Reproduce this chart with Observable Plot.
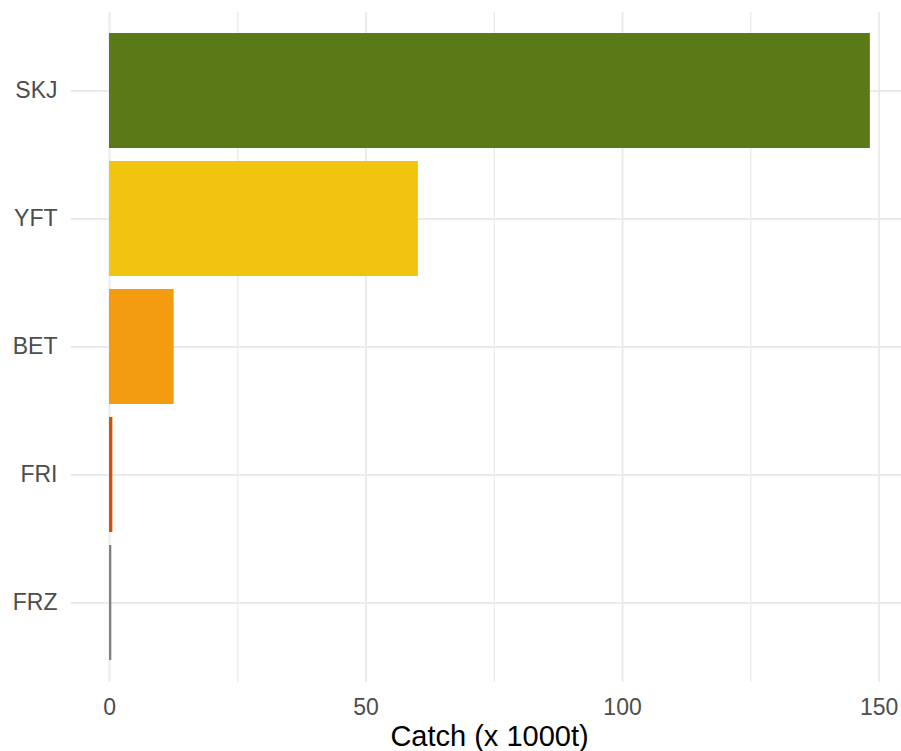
<!DOCTYPE html>
<html>
<head>
<meta charset="utf-8">
<script src="https://cdn.jsdelivr.net/npm/d3@7"></script>
<script src="https://cdn.jsdelivr.net/npm/@observablehq/plot@0.6"></script>
<style>
  html, body { margin: 0; padding: 0; background: #fff; }
  #chart svg { display: block; }
</style>
</head>
<body>
<div id="chart"></div>
<script>
const species = ["SKJ", "YFT", "BET", "FRI", "FRZ"];
const catchValues = [148.3, 60.2, 12.6, 0.65, 0.45];
const barColors = ["#5a7a17", "#f1c40f", "#f39c12", "#d35400", "#808080"];
const majorTicks = [0, 50, 100, 150];
const minorTicks = [25, 75, 125];
const xTitle = "Catch (x 1000t)";

const data = species.map((s, i) => ({species: s, value: catchValues[i], color: barColors[i]}));

const chart = Plot.plot({
  width: 901,
  height: 751,
  marginLeft: 71,
  marginRight: 0,
  marginTop: 12,
  marginBottom: 69,
  style: {fontFamily: "'Liberation Sans', Arial, sans-serif", background: "#fff"},
  x: {domain: [-7.41, 154.37], ticks: majorTicks},
  y: {domain: species, paddingInner: 0.1, paddingOuter: 0.15, align: 0.5},
  color: {type: "identity"},
  marks: [
    Plot.gridX(minorTicks, {stroke: "#ebebeb", strokeOpacity: 1, strokeWidth: 1.3}),
    Plot.gridX(majorTicks, {stroke: "#ebebeb", strokeOpacity: 1, strokeWidth: 2}),
    Plot.gridY({stroke: "#ebebeb", strokeOpacity: 1, strokeWidth: 2}),
    Plot.barX(data, {x: "value", y: "species", fill: "color"}),
    Plot.axisX(majorTicks, {tickSize: 0, tickPadding: 15.7, fontSize: 23, fill: "#4d4d4d", label: null}),
    Plot.axisY({tickSize: 0, tickPadding: 14, fontSize: 23, fill: "#4d4d4d", label: null}),
    Plot.text([xTitle], {frameAnchor: "bottom", lineAnchor: "bottom", dy: 63, dx: 3, fontSize: 29, fill: "#000"})
  ]
});
document.getElementById("chart").appendChild(chart);
</script>
</body>
</html>
